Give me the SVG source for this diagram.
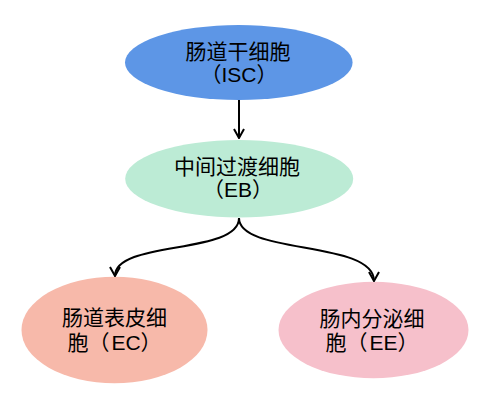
<svg xmlns="http://www.w3.org/2000/svg" width="488" height="410" viewBox="0 0 488 410">
<style>
text{font-family:"Liberation Sans","Noto Sans CJK SC",sans-serif;font-size:21px;fill:#000;text-anchor:middle}
.edge{fill:none;stroke:#000;stroke-width:2}
</style>
<defs>
<marker id="arr" viewBox="0 0 12 12" refX="11" refY="6" markerWidth="12" markerHeight="12" markerUnits="userSpaceOnUse" orient="auto">
<path d="M2,1 L11,6 L2,11" fill="none" stroke="#000" stroke-width="2"/>
</marker>
</defs>
<rect width="488" height="410" fill="#fff"/>
<g id="isc">
<ellipse cx="238.8" cy="62.5" rx="113.8" ry="37.5" fill="#5D96E6"/>
<text x="238" y="59">肠道干细胞</text>
<text x="239" y="82">（ISC）</text>
</g>
<g id="eb">
<ellipse cx="239.2" cy="178.7" rx="114" ry="38.7" fill="#BCEBD5"/>
<text x="237" y="174">中间过渡细胞</text>
<text x="238" y="197">（EB）</text>
</g>
<g id="ec">
<ellipse cx="114.5" cy="330" rx="93" ry="53.3" fill="#F7B9AA"/>
<text x="114.5" y="325">肠道表皮细</text>
<text x="114.5" y="350">胞（<tspan dx="2">EC</tspan>）</text>
</g>
<g id="ee">
<ellipse cx="373.5" cy="330" rx="95" ry="48.3" fill="#F6C0CB"/>
<text x="372" y="326">肠内分泌细</text>
<text x="372" y="350">胞（<tspan dx="2">EE</tspan>）</text>
</g>
<g id="connectors">
<path class="edge" d="M239,100 L239,138" marker-end="url(#arr)"/>
<path class="edge" d="M239,218 C239,255 115,240 115,276" marker-end="url(#arr)"/>
<path class="edge" d="M239,218 C239,255 374,240 374,281" marker-end="url(#arr)"/>
</g>
</svg>
